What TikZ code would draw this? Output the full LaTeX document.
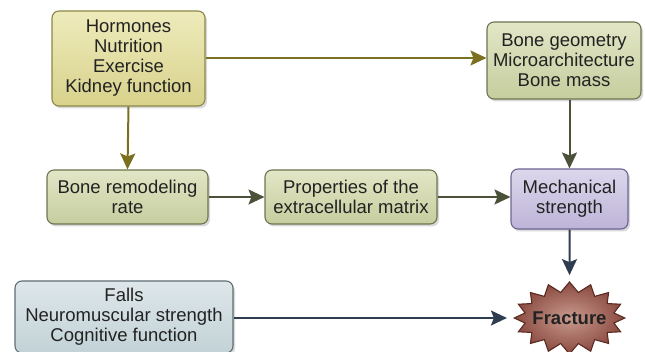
\documentclass[tikz,border=0pt]{standalone}
\usepackage{fontspec}
\setmainfont{Liberation Sans}
\usetikzlibrary{arrows.meta,shapes.symbols,shadows,calc}
\definecolor{txt}{HTML}{222222}
\definecolor{yelTop}{HTML}{EEEBBB}
\definecolor{yelBot}{HTML}{D8D28C}
\definecolor{yelLine}{HTML}{8C8745}
\definecolor{grnTop}{HTML}{E2E6C6}
\definecolor{grnBot}{HTML}{C6CD9E}
\definecolor{grnLine}{HTML}{6D7450}
\definecolor{purTop}{HTML}{DCD7EC}
\definecolor{purBot}{HTML}{BEB4D8}
\definecolor{purLine}{HTML}{6E6590}
\definecolor{bluTop}{HTML}{DEE7EA}
\definecolor{bluBot}{HTML}{C2D2D6}
\definecolor{bluLine}{HTML}{5E6E74}
\definecolor{frIn}{HTML}{C99A8E}
\definecolor{frOut}{HTML}{8A4A40}
\definecolor{frLine}{HTML}{5A2A20}
\definecolor{arOlive}{HTML}{7A7020}
\definecolor{arGray}{HTML}{4B5239}
\definecolor{arNavy}{HTML}{2F3D50}
\tikzset{
  box/.style={rounded corners=7pt, line width=1.1pt, align=center, text=txt,
    font=\fontsize{18.5}{20}\selectfont, inner sep=2pt,
    drop shadow={opacity=0.3, shadow xshift=2pt, shadow yshift=-2.5pt}},
  yelbox/.style={box, draw=yelLine, top color=yelTop, bottom color=yelBot},
  grnbox/.style={box, draw=grnLine, top color=grnTop, bottom color=grnBot},
  purbox/.style={box, draw=purLine, top color=purTop, bottom color=purBot},
  blubox/.style={box, draw=bluLine, top color=bluTop, bottom color=bluBot},
  arr/.style={line width=2pt, -{Stealth[length=16pt, width=15pt, inset=3pt]}},
}
\begin{document}
\begin{tikzpicture}[x=1pt, y=-1pt]
\useasboundingbox (0,0) rectangle (645,352);
\node[yelbox, minimum width=153pt, minimum height=95pt] (A) at (128.5,58.5)
  {Hormones\\Nutrition\\Exercise\\Kidney function};
\node[grnbox, minimum width=154pt, minimum height=77pt] (B) at (564,60.5)
  {Bone geometry\\Microarchitecture\\Bone mass};
\node[grnbox, minimum width=161pt, minimum height=54pt] (C) at (127.5,197)
  {Bone remodeling\\rate};
\node[grnbox, minimum width=172pt, minimum height=54pt] (D) at (351,197)
  {Properties of the\\extracellular matrix};
\node[purbox, minimum width=117pt, minimum height=60pt] (E) at (569.5,199)
  {Mechanical\\strength};
\node[blubox, minimum width=218pt, minimum height=72pt] (F) at (124,317)
  {Falls\\Neuromuscular strength\\Cognitive function};
\node[starburst, starburst points=16, starburst point height=10pt, random starburst=0,
  minimum width=100pt, minimum height=72pt, inner xsep=-5pt, inner ysep=0pt, line width=1.1pt,
  draw=frLine, inner color=frIn, outer color=frOut, text=txt,
  font=\fontsize{18.5}{20}\selectfont\bfseries] (G) at (569.5,318) {Fracture};
\draw[arr, arOlive] (A.east |- 0,58) -- (B.west |- 0,58);
\draw[arr, arOlive] (A.south) -- (C.north);
\draw[arr, arGray] (E.north |- B.south) -- (E.north);
\draw[arr, arGray] (C.east) -- (D.west);
\draw[arr, arGray] (D.east) -- (E.west |- D.east);
\draw[arr, arNavy, shorten >=6pt] (E.south) -- (G.north);
\draw[arr, arNavy, shorten >=6pt] (F.east |- 0,318) -- (G.west |- 0,318);
\end{tikzpicture}
\end{document}
